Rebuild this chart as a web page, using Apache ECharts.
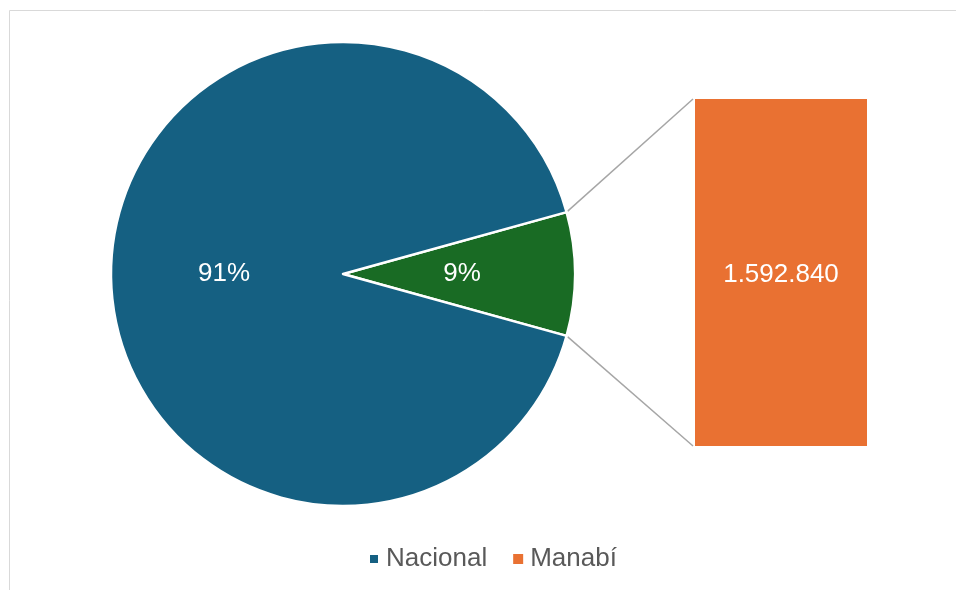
<!DOCTYPE html>
<html>
<head>
<meta charset="utf-8">
<script src="https://cdn.jsdelivr.net/npm/echarts@6/dist/echarts.min.js"></script>
<style>
  html, body { margin: 0; padding: 0; background: #fff; }
  #chart { width: 956px; height: 590px; }
</style>
</head>
<body>
<div id="chart"></div>
<script>
// datos
const pieNames = ["Otro", "Nacional"];
const pieValues = [1592840, 16938986];
const barNames = ["Manabí"];
const barValues = [1592840];
const legendNames = ["Nacional", "Manabí"];

const colors = { nacional: "#156082", otro: "#196B24", manabi: "#E97132" };
const font = "Liberation Sans, Arial, sans-serif";

// geometria
const cx = 343, cy = 274, r = 232;
const bar = { left: 695, top: 99, width: 172, height: 347 };

const total = pieValues.reduce((a, b) => a + b, 0);
const half = (pieValues[0] / total) * 180; // medio angulo del sector verde
const rad = (half * Math.PI) / 180;
const p1 = [cx + r * Math.cos(rad), cy - r * Math.sin(rad)];
const p2 = [cx + r * Math.cos(rad), cy + r * Math.sin(rad)];

const fmtNum = (v) => String(v).replace(/\B(?=(\d{3})+(?!\d))/g, ".");

const chart = echarts.init(document.getElementById("chart"));
const option = {
  animation: false,
  color: [colors.nacional, colors.manabi],
  legend: {
    data: legendNames,
    left: 363,
    top: 541,
    icon: "rect",
    itemWidth: 10,
    itemHeight: 10,
    itemGap: 26,
    selectedMode: false,
    textStyle: { color: "#595959", fontSize: 26, fontFamily: font, padding: [0, 0, 0, 2] },
  },
  grid: { left: bar.left, top: bar.top, width: bar.width, height: bar.height },
  xAxis: { type: "category", data: barNames, show: false },
  yAxis: { type: "value", min: 0, max: barValues[0], show: false },
  series: [
    {
      type: "pie",
      center: [cx, cy],
      radius: r,
      startAngle: half,
      clockwise: true,
      silent: true,
      itemStyle: { borderColor: "#fff", borderWidth: 2.5 },
      label: {
        position: "inside",
        color: "#fff",
        fontSize: 26,
        fontFamily: font,
        formatter: (p) => Math.round(p.percent) + "%",
      },
      labelLine: { show: false },
      data: pieNames.map((n, i) => ({
        name: n,
        value: pieValues[i],
        itemStyle: { color: i === 0 ? colors.otro : colors.nacional },
      })),
    },
    {
      name: "Manabí",
      type: "bar",
      barWidth: "100%",
      silent: true,
      itemStyle: { color: colors.manabi },
      label: {
        show: true,
        position: "inside",
        offset: [0, 2],
        color: "#fff",
        fontSize: 26,
        fontFamily: font,
        formatter: (p) => fmtNum(p.value),
      },
      data: barValues,
    },
  ],
  graphic: [
    {
      type: "rect",
      shape: { x: 9.5, y: 10.5, width: 1200, height: 1200 },
      style: { fill: "none", stroke: "#d9d9d9", lineWidth: 1 },
      silent: true,
    },
    {
      type: "polyline",
      shape: { points: [p1, [bar.left - 2, bar.top]] },
      style: { stroke: "#a6a6a6", lineWidth: 1.5, fill: "none" },
      silent: true,
    },
    {
      type: "polyline",
      shape: { points: [p2, [bar.left - 2, bar.top + bar.height]] },
      style: { stroke: "#a6a6a6", lineWidth: 1.5, fill: "none" },
      silent: true,
    },
  ],
};
chart.setOption(option);
</script>
</body>
</html>
